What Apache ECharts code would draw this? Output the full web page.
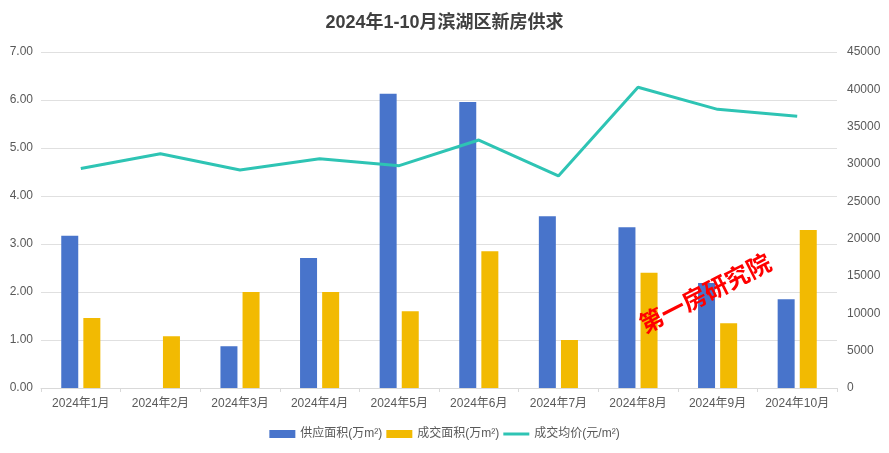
<!DOCTYPE html>
<html><head><meta charset="utf-8">
<script src="https://cdn.jsdelivr.net/npm/echarts@6/dist/echarts.min.js"></script>
<style>html,body{margin:0;padding:0;background:#fff}#c{width:889px;height:453px}</style>
</head><body><div id="c"></div>
<script>
const categories = ['2024年1月','2024年2月','2024年3月','2024年4月','2024年5月','2024年6月','2024年7月','2024年8月','2024年9月','2024年10月'];
const supplyArea = [3.17, 0, 0.87, 2.71, 6.13, 5.96, 3.58, 3.35, 2.19, 1.85];
const dealArea = [1.46, 1.08, 2.00, 2.00, 1.60, 2.85, 1.00, 2.40, 1.35, 3.29];
const avgPrice = [29400, 31380, 29200, 30700, 29780, 33210, 28400, 40270, 37320, 36380];
const leftTicks = {min: 0, max: 7, interval: 1};
const rightTicks = {min: 0, max: 45000, interval: 5000};

const font = '"Liberation Sans", "Noto Sans CJK SC", sans-serif';
const chart = echarts.init(document.getElementById('c'));
chart.setOption({
  animation: false,
  textStyle: {fontFamily: font},
  title: {text: '2024年1-10月滨湖区新房供求', left: 'center', top: 9,
    textStyle: {fontSize: 18, fontWeight: 'bold', color: '#404040', fontFamily: font}},
  legend: {bottom: 8, left: 'center', itemWidth: 26, itemHeight: 8, itemGap: 4,
    textStyle: {color: '#595959', fontSize: 12, fontFamily: font},
    data: [{name: '供应面积(万m²)', icon: 'rect'}, {name: '成交面积(万m²)', icon: 'rect'},
      {name: '成交均价(元/m²)', icon: 'path://M0,0L26,0L26,3L0,3Z'}]},
  grid: {left: 41, right: 52, top: 52, bottom: 65, containLabel: false},
  xAxis: {type: 'category', data: categories,
    axisLine: {lineStyle: {color: '#d9d9d9'}},
    axisTick: {show: true, alignWithLabel: false, length: 4, lineStyle: {color: '#d9d9d9'}},
    axisLabel: {color: '#595959', fontSize: 12, margin: 10, interval: 0}},
  yAxis: [
    {type: 'value', min: leftTicks.min, max: leftTicks.max, interval: leftTicks.interval,
      axisLine: {show: false}, axisTick: {show: false},
      axisLabel: {color: '#595959', fontSize: 12, formatter: v => v.toFixed(2)},
      splitLine: {lineStyle: {color: '#e0e0e0'}}},
    {type: 'value', min: rightTicks.min, max: rightTicks.max, interval: rightTicks.interval,
      axisLine: {show: false}, axisTick: {show: false},
      axisLabel: {color: '#595959', fontSize: 12, margin: 10, formatter: v => String(v)},
      splitLine: {show: false}}
  ],
  series: [
    {name: '供应面积(万m²)', type: 'bar', data: supplyArea, barWidth: 17, barGap: '30%',
      itemStyle: {color: '#4874CB'}},
    {name: '成交面积(万m²)', type: 'bar', data: dealArea, barWidth: 17,
      itemStyle: {color: '#F2BA02'}},
    {name: '成交均价(元/m²)', type: 'line', yAxisIndex: 1, data: avgPrice,
      symbol: 'none', lineStyle: {color: '#2EC4B4', width: 3}, itemStyle: {color: '#2EC4B4'}}
  ],
  graphic: [{type: 'text', x: 705, y: 293, rotation: 27 * Math.PI / 180,
    style: {text: '第一房研究院', fill: '#FF0000', font: 'bold 24px "Noto Sans CJK SC", sans-serif',
      align: 'center', verticalAlign: 'middle'}, z: 100}]
});
</script></body></html>
